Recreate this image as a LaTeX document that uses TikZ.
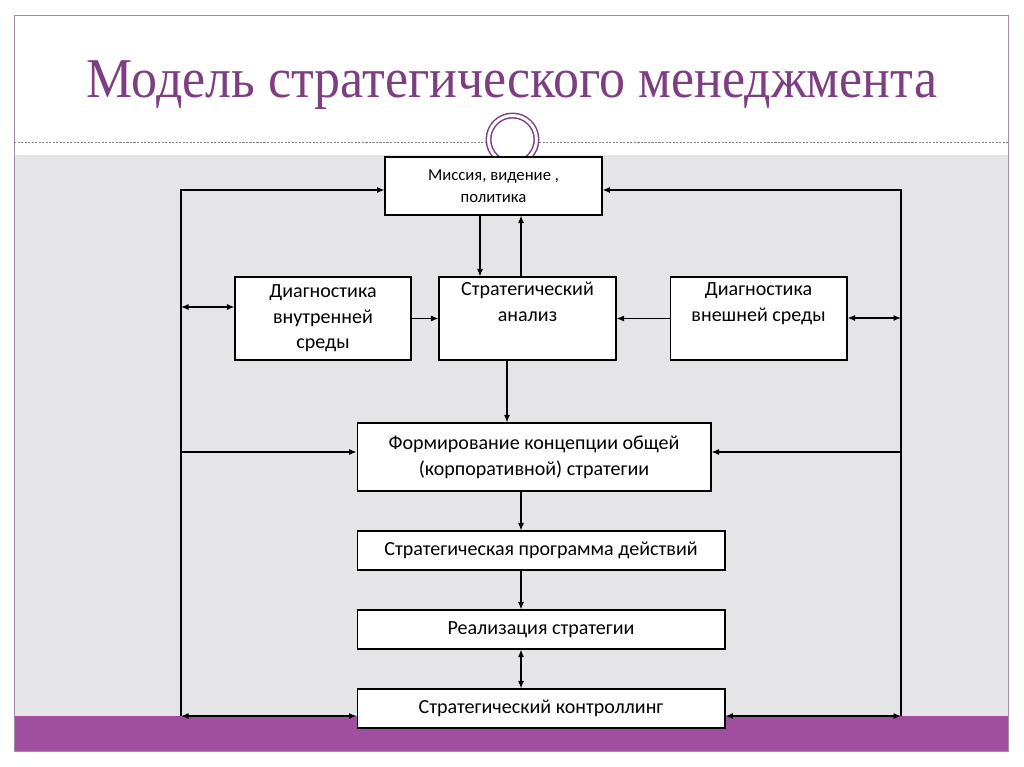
\documentclass[tikz,border=0pt]{standalone}
\usepackage{fontspec}
\setmainfont{Carlito}
\newfontfamily\titlefont{Liberation Serif}
\usepackage{xcolor}
\usepackage{tikz}
\usetikzlibrary{positioning, arrows.meta, calc}
\definecolor{slideplum}{HTML}{7E3F82}
\definecolor{bandplum}{HTML}{A04EA0}
\definecolor{frameplum}{HTML}{A58BA5}
\definecolor{panelgray}{HTML}{E5E4E6}

\begin{document}
\begin{tikzpicture}[x=0.02cm, y=-0.02cm,
    box/.style={draw, fill=white, line width=0.6pt, align=center, inner sep=2pt, font=\fontsize{11.4}{14.6}\selectfont},
    arr/.style={-{Latex[length=1.5mm,width=1.2mm]}, line width=0.7pt},
    darr/.style={{Latex[length=1.5mm,width=1.2mm]}-{Latex[length=1.5mm,width=1.2mm]}, line width=0.7pt}]
      \useasboundingbox (0,0) rectangle (1024,767);
      \fill[white] (0,0) rectangle (1024,767);
      \fill[panelgray] (14,155) rectangle (1008,716);
      \fill[bandplum] (14,716) rectangle (1008,751);
      \draw[frameplum, line width=0.5pt] (14,15) rectangle (1008,751);
      \draw[gray, dash pattern=on 1.2pt off 0.8pt, line width=0.4pt] (14,142) -- (486,142) (539,142) -- (1008,142);
      \draw[slideplum, line width=0.85pt, double=white, double distance=1.7pt, fill=white] (512.5,139.5) circle[radius=0.48cm];

      \node[anchor=base, text=slideplum] (title) at (512,97) {\scalebox{0.924}[1]{\titlefont\fontsize{32}{36}\selectfont Модель стратегического менеджмента}};

      \node[box, minimum width=4.34cm, minimum height=1.16cm, font=\fontsize{9.5}{12.5}\selectfont] (mission) at (493.5,186) {Миссия, видение ,\\политика};

      \node[box, minimum width=3.52cm, minimum height=1.66cm] (diagin) at (323,318.5) {Диагностика\\внутренней\\среды};
      \node[box, minimum width=3.54cm, minimum height=1.66cm] (analysis) at (527.5,318.5) {Стратегический\\анализ\\\strut};
      \node[box, minimum width=3.54cm, minimum height=1.66cm] (diagex) at (758.5,318.5) {Диагностика\\внешней среды\\\strut};

      \node[box, minimum width=7.08cm, minimum height=1.36cm] (formation) at (534,457) {Формирование концепции общей\\(корпоративной) стратегии};
      \node[box, minimum width=7.36cm, minimum height=0.78cm] (program) at (541,550.5) {Стратегическая программа действий};
      \node[box, minimum width=7.36cm, minimum height=0.78cm] (realize) at (541,629.5) {Реализация стратегии};
      \node[box, minimum width=7.36cm, minimum height=0.78cm] (control) at (541,708.5) {Стратегический контроллинг};

      \coordinate (lt) at (181,190);
      \coordinate (lb) at (181,716);
      \coordinate (rt) at (901,190);
      \coordinate (rb) at (901,716);
      \coordinate (lin) at (181,307);
      \coordinate (rex) at (901,318);
      \coordinate (lf) at (181,452);
      \coordinate (rf) at (901,452);
      \coordinate (mdown) at (480,0);
      \coordinate (adown) at (507,0);
      \coordinate (spine) at (521,0);

      \draw[arr] (lb) -- (lt) -- (lt -| mission.west);
      \draw[arr] (rb) -- (rt) -- (rt -| mission.east);
      \draw[arr] (mdown |- mission.south) -- (mdown |- analysis.north);
      \draw[arr] (spine |- analysis.north) -- (spine |- mission.south);
      \draw[darr] (lin) -- (lin -| diagin.west);
      \draw[arr] (diagin.east) -- (analysis.west);
      \draw[arr] (diagex.west) -- (analysis.east);
      \draw[darr] (rex -| diagex.east) -- (rex);
      \draw[arr] (adown |- analysis.south) -- (adown |- formation.north);
      \draw[arr] (lf) -- (lf -| formation.west);
      \draw[arr] (rf) -- (rf -| formation.east);
      \draw[arr] (spine |- formation.south) -- (spine |- program.north);
      \draw[arr] (spine |- program.south) -- (spine |- realize.north);
      \draw[darr] (spine |- realize.south) -- (spine |- control.north);
      \draw[darr] (lb) -- (lb -| control.west);
      \draw[darr] (rb) -- (rb -| control.east);
\end{tikzpicture}
\end{document}
